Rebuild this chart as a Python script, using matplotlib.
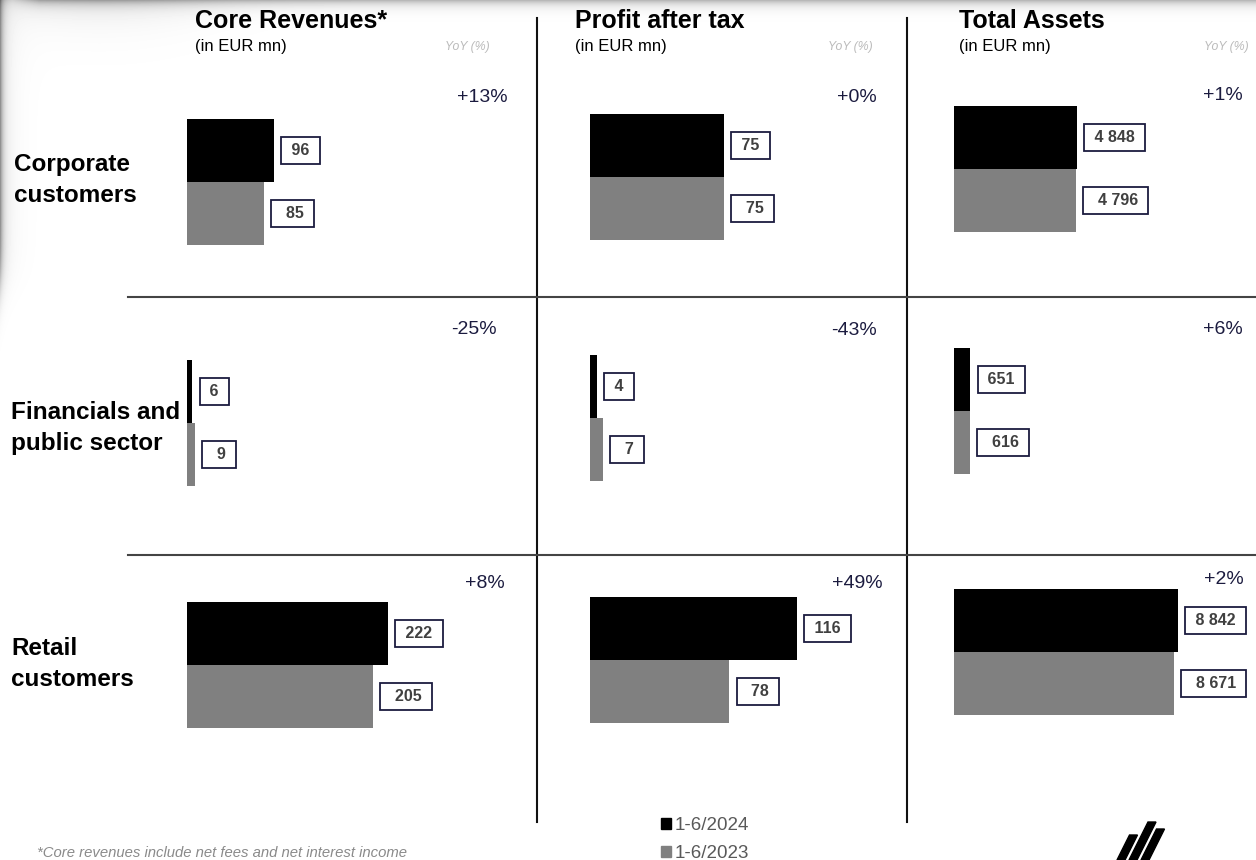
import numpy as np
import matplotlib
matplotlib.use("Agg")
import matplotlib.pyplot as plt
from matplotlib.patches import Patch, Polygon

plt.rcParams['font.family'] = ['Liberation Sans', 'DejaVu Sans']

W, H = 1256, 860

# --- data ---
metrics = ['Core Revenues*', 'Profit after tax', 'Total Assets']
segments = ['Corporate\ncustomers', 'Financials and\npublic sector', 'Retail\ncustomers']
period_labels = ['1-6/2024', '1-6/2023']
# rows = segments, cols = metrics
cur_2024 = [[96, 75, 4848],
            [6, 4, 651],
            [222, 116, 8842]]
prev_2023 = [[85, 75, 4796],
             [9, 7, 616],
             [205, 78, 8671]]
yoy = [['+13%', '+0%', '+1%'],
       ['-25%', '-43%', '+6%'],
       ['+8%', '+49%', '+2%']]
footnote = '*Core revenues include net fees and net interest income'

# --- layout (pixels) ---
col_x0 = [187, 590, 954]
col_xmax = [331, 168, 11840]      # data value spanning 300 px
bar_top = [[119, 114, 106],
           [360, 355, 348],
           [602, 597, 589]]
yoy_pos = [[(508, 97), (877, 97), (1243, 96)],
           [(497, 330), (877, 331), (1243, 330)],
           [(505, 583), (883, 583), (1244, 579)]]
head_x = [195, 575, 959]
yoy_head_x = [490, 873, 1249]
seg_pos = [(14, 180), (11, 428), (11, 664)]

BLACK = '#000000'
GRAY = '#808080'
NAVY = '#1b1b3f'


def fx(x):
    return x / W


def fy(y):
    return 1 - y / H


fig = plt.figure(figsize=(W / 100, H / 100), dpi=100)

# soft shadow at the top and left edge
bg = fig.add_axes([0, 0, 1, 1], zorder=-5)
yy, xx = np.mgrid[0:H, 0:W]
dark = 0.28 * np.exp(-yy / 5.0) * np.clip(xx / 40.0, 0.3, 1)
dark += 0.10 * np.exp(-yy / 20.0) * np.exp(-((xx - 100) / 120.0) ** 2)
dark += 0.35 * np.exp(-xx / 3.0) / (1 + np.exp((yy - 280) / 15.0))
dark += 0.08 * np.exp(-xx / 12.0) / (1 + np.exp((yy - 280) / 15.0))
img = 1 - np.clip(dark, 0, 0.6)
bg.imshow(img, cmap='gray', vmin=0, vmax=1, extent=[0, 1, 0, 1], aspect='auto')
bg.axis('off')

# grid lines
line_ax = fig.add_axes([0, 0, 1, 1], zorder=-1)
line_ax.set_xlim(0, W)
line_ax.set_ylim(H, 0)
line_ax.axis('off')
line_ax.patch.set_alpha(0)
for x in [537, 907]:
    line_ax.plot([x, x], [18, 822], color='#111111', lw=1.5)
for y in [297, 555]:
    line_ax.plot([128, W], [y, y], color='#444444', lw=1.5)

# headers
for c in range(3):
    fig.text(fx(head_x[c]), fy(21), metrics[c], fontsize=18, weight='bold',
             va='center', ha='left', color='black')
    fig.text(fx(head_x[c]), fy(47), '(in EUR mn)', fontsize=12,
             va='center', ha='left', color='black')
    fig.text(fx(yoy_head_x[c]), fy(47), 'YoY (%)', fontsize=8.8, style='italic',
             va='center', ha='right', color='#bbbbbb')

# segment labels
for r in range(3):
    x, y = seg_pos[r]
    fig.text(fx(x), fy(y), segments[r], fontsize=17.5, weight='bold',
             va='center', ha='left', linespacing=1.48, color='black')

# bar cells
box = dict(boxstyle='square,pad=0.36', fc='white', ec=NAVY, lw=1.3)
for r in range(3):
    for c in range(3):
        top = bar_top[r][c]
        ax = fig.add_axes([fx(col_x0[c]), fy(top + 126), 300 / W, 126 / H])
        ax.axis('off')
        ax.patch.set_alpha(0)
        vals = [cur_2024[r][c], prev_2023[r][c]]
        ax.barh([1, 0], vals, height=1.0, color=[BLACK, GRAY])
        ax.set_ylim(-0.5, 1.5)
        ax.set_xlim(0, col_xmax[c])
        for ypos, v, pre in [(1, vals[0], ' '), (0, vals[1], '  ')]:
            lab = pre + f'{v:,}'.replace(',', ' ') + ' '
            ax.annotate(lab, xy=(v, ypos), xytext=(13, 0), textcoords='offset pixels',
                        ha='left', va='center', fontsize=11.5, weight='bold',
                        color='#404040', bbox=box, annotation_clip=False)
        xr, yc = yoy_pos[r][c]
        fig.text(fx(xr), fy(yc), yoy[r][c], fontsize=14, ha='right', va='center',
                 color=NAVY)

# legend
handles = [Patch(color=BLACK), Patch(color=GRAY)]
fig.legend(handles, period_labels, loc='upper left', bbox_to_anchor=(fx(661), fy(817)),
           frameon=False, fontsize=13.5, labelcolor='#595959', handlelength=0.55,
           handleheight=0.55, handletextpad=0.2, labelspacing=0.6,
           borderaxespad=0, borderpad=0)

# footnote
fig.text(fx(37), fy(853), footnote, fontsize=10.7, style='italic', color='#8a8a8a',
         va='center', ha='left')

# logo
stripes = [[(1117, 860), (1125, 860), (1137.5, 835), (1129.5, 835)],
           [(1129, 860), (1137, 860), (1156, 822), (1148, 822)],
           [(1141, 860), (1149, 860), (1164.5, 829), (1156.5, 829)]]
for s in stripes:
    fig.patches.append(Polygon([(fx(a), fy(b)) for a, b in s], closed=True,
                               transform=fig.transFigure, color='black'))

fig.savefig('out.png', dpi=100)
